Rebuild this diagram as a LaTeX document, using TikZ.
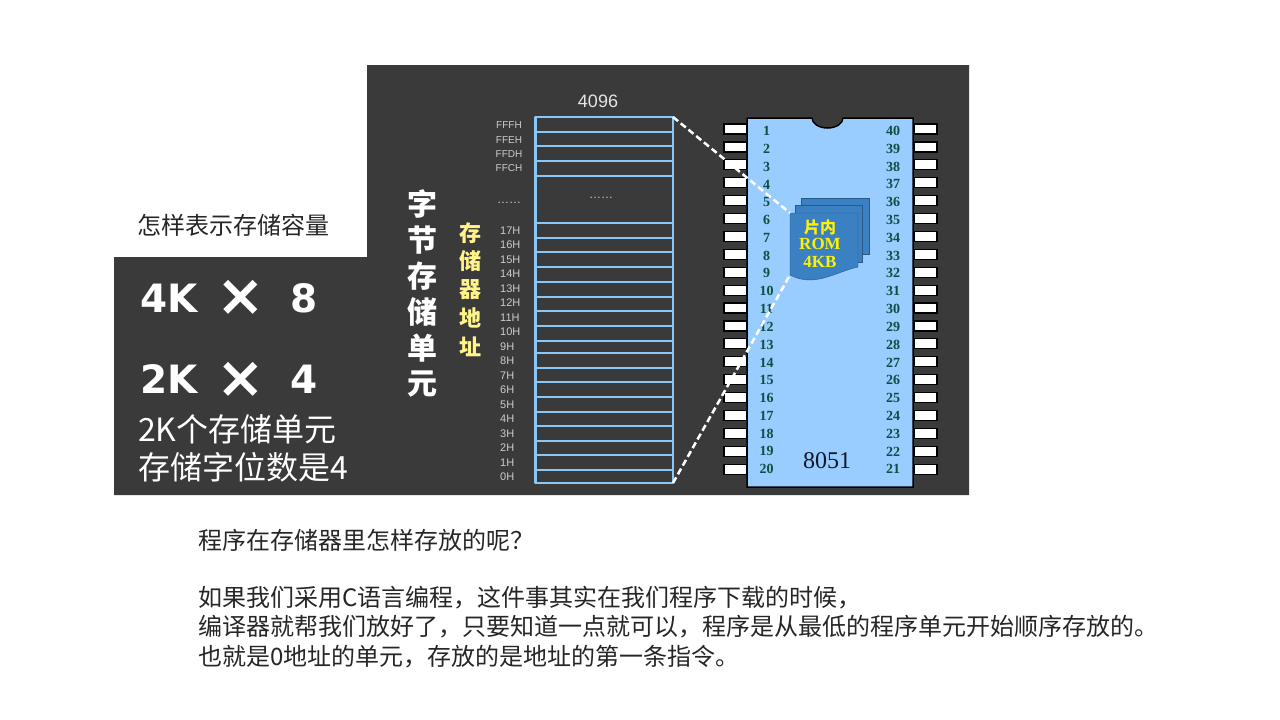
\documentclass[tikz,border=0pt]{standalone}
\usepackage{fontspec}
\setmainfont{Liberation Sans}
\newfontfamily\cjk{Noto Sans CJK SC}
\newfontfamily\heavy{DejaVu Sans}
\newfontfamily\pinfont{Liberation Serif}
\usepackage{xcolor}
\definecolor{panel}{HTML}{3A3A3A}
\definecolor{cellblue}{HTML}{8AC6F6}
\definecolor{chipblue}{HTML}{99CCFF}
\definecolor{romblue}{HTML}{3A80C2}
\definecolor{pingreen}{HTML}{0F4F40}
\definecolor{addryellow}{HTML}{FFF38A}
\definecolor{chipname}{HTML}{101828}
\tikzset{
    blacktext/.style={anchor=west,inner sep=0pt,text=black!85,font=\cjk\fontsize{24}{24}\selectfont},
    whitetext/.style={anchor=west,inner sep=0pt,text=white,font=\cjk\fontsize{32}{32}\selectfont},
    bigtext/.style={inner sep=0pt,text=white,font=\heavy\bfseries\fontsize{39}{39}\selectfont},
    addr/.style={inner sep=0pt,text=white!80!black,font=\fontsize{11}{11}\selectfont},
    pinbox/.style={draw=black,line width=1.2pt,fill=white},
    pinnum/.style={inner sep=0pt,text=pingreen,font=\pinfont\bfseries\fontsize{14}{14}\selectfont},
    romsheet/.style={draw=romblue!70!black,line width=.4pt,fill=romblue},
    romtext/.style={inner sep=0pt,text=yellow,font=\pinfont\bfseries\fontsize{17}{17}\selectfont},
    zoomline/.style={draw=white,line width=2.5pt,dash pattern=on 6.5pt off 3.5pt},
}

\begin{document}
\begin{tikzpicture}[x=1pt,y=-1pt]
    \useasboundingbox (0,0) rectangle (1280,720);
    \fill[panel] (367,65) -- (969,65) -- (969,495) -- (114,495) -- (114,257) -- (367,257) -- cycle;

    % left part
    \node[blacktext] (title) at (137,225) {怎样表示存储容量};
    \node[bigtext,anchor=west] (fourk) at (140,298) {4K};
    \node[bigtext,font=\heavy\bfseries\fontsize{58}{58}\selectfont] (crossa) at (241,298) {×};
    \node[bigtext] (eight) at (304,298) {8};
    \node[bigtext,anchor=west] (twok) at (140,379) {2K};
    \node[bigtext,font=\heavy\bfseries\fontsize{58}{58}\selectfont] (crossb) at (241,380) {×};
    \node[bigtext] (four) at (304,379) {4};
    \node[whitetext] (linea) at (138,429) {2K个存储单元};
    \node[whitetext] (lineb) at (138,467) {存储字位数是4};

    % vertical words
    \foreach \c/\y [count=\i] in {字/204,节/240,存/276,储/312,单/348,元/384}
        \node[inner sep=0pt,text=white,font=\cjk\bfseries\fontsize{30}{30}\selectfont] (unit\i) at (422,\y) {\c};
    \foreach \c/\y [count=\i] in {存/233,储/261,器/290,地/318,址/347}
        \node[inner sep=0pt,text=addryellow,font=\cjk\bfseries\fontsize{22}{22}\selectfont] (word\i) at (470,\y) {\c};

    % address labels
    \foreach \t/\y in {FFFH/125,FFEH/140,FFDH/154,FFCH/168}
        \node[addr,font=\fontsize{10}{10}\selectfont] (a\t) at (509,\y) {\t};
    \foreach \t/\y in {17H/231,16H/245,15H/260,14H/274,13H/289,12H/303,11H/318,10H/332,9H/347,8H/361,7H/376,6H/390,5H/405,4H/419,3H/434,2H/448,1H/463,0H/477}
        \node[addr,anchor=west] (a\t) at (500,\y) {\t};
    \node[addr,font=\fontsize{12}{12}\selectfont] (dotsa) at (509,203) {……};
    \node[addr,font=\fontsize{12}{12}\selectfont] (dotsb) at (601,198) {……};
    \node[inner sep=0pt,text=white!90!black,font=\fontsize{18}{18}\selectfont] (cap) at (598,101) {4096};

    % memory cells
    \draw[cellblue,line width=2.8pt,line join=round] (535.5,117) rectangle (673,483);
    \foreach \y in {132,146,161,176,223,238,252,267,282,297,311,326,341,353,368,382,397,412,426,441,455,470}
        \draw[cellblue,line width=2.2pt] (535.5,\y) -- (673,\y);
    \coordinate (celltop) at (673,117);
    \coordinate (cellbot) at (673,483);

    % chip
    \foreach \i in {1,...,20} {
        \pgfmathsetmacro{\py}{129+(\i-1)*17.9}
        \draw[pinbox] (724,\py-5) rectangle (747,\py+5);
        \draw[pinbox] (914,\py-5) rectangle (937,\py+5);
    }
    \draw[fill=chipblue,draw=black,line width=1.5pt] (747,118) -- (812,118) arc[start angle=180,end angle=360,x radius=15.5,y radius=-10] -- (913,118) -- (913,487) -- (747,487) -- cycle;
    \foreach \i in {1,...,20} {
        \pgfmathsetmacro{\py}{131+(\i-1)*17.8}
        \pgfmathtruncatemacro{\j}{41-\i}
        \node[pinnum] (pl\i) at (766.5,\py) {\i};
        \node[pinnum] (pr\j) at (893,\py) {\j};
    }
    \node[inner sep=0pt,text=chipname,font=\pinfont\fontsize{24}{24}\selectfont] (name) at (827,461) {8051};

    % rom sheets
    \draw[romsheet] (801,198) rectangle (869,254);
    \draw[romsheet] (795,205) rectangle (862,262);
    \draw[romsheet] (790,213) -- (858,213) -- (858,267) .. controls (835,272) and (815,288) .. (790,275) -- cycle;
    \coordinate (romtop) at (790,213);
    \coordinate (rombot) at (790,275);
    \node[inner sep=0pt,text=yellow,font=\cjk\bfseries\fontsize{16}{16}\selectfont] (romname) at (820,227) {片内};
    \node[romtext] (romrom) at (820,244) {ROM};
    \node[romtext] (romsize) at (820,262) {4KB};
    \draw[zoomline] (celltop) -- (romtop);
    \draw[zoomline] (cellbot) -- (rombot);

    % text below
    \node[blacktext] (texta) at (198,540) {程序在存储器里怎样存放的呢^^^^ff1f};
    \node[blacktext] (textb) at (198,598) {如果我们采用C语言编程^^^^ff0c这件事其实在我们程序下载的时候^^^^ff0c};
    \node[blacktext] (textc) at (198,627) {编译器就帮我们放好了^^^^ff0c只要知道一点就可以^^^^ff0c程序是从最低的程序单元开始顺序存放的。};
    \node[blacktext] (textd) at (198,657) {也就是0地址的单元^^^^ff0c存放的是地址的第一条指令。};
\end{tikzpicture}
\end{document}
